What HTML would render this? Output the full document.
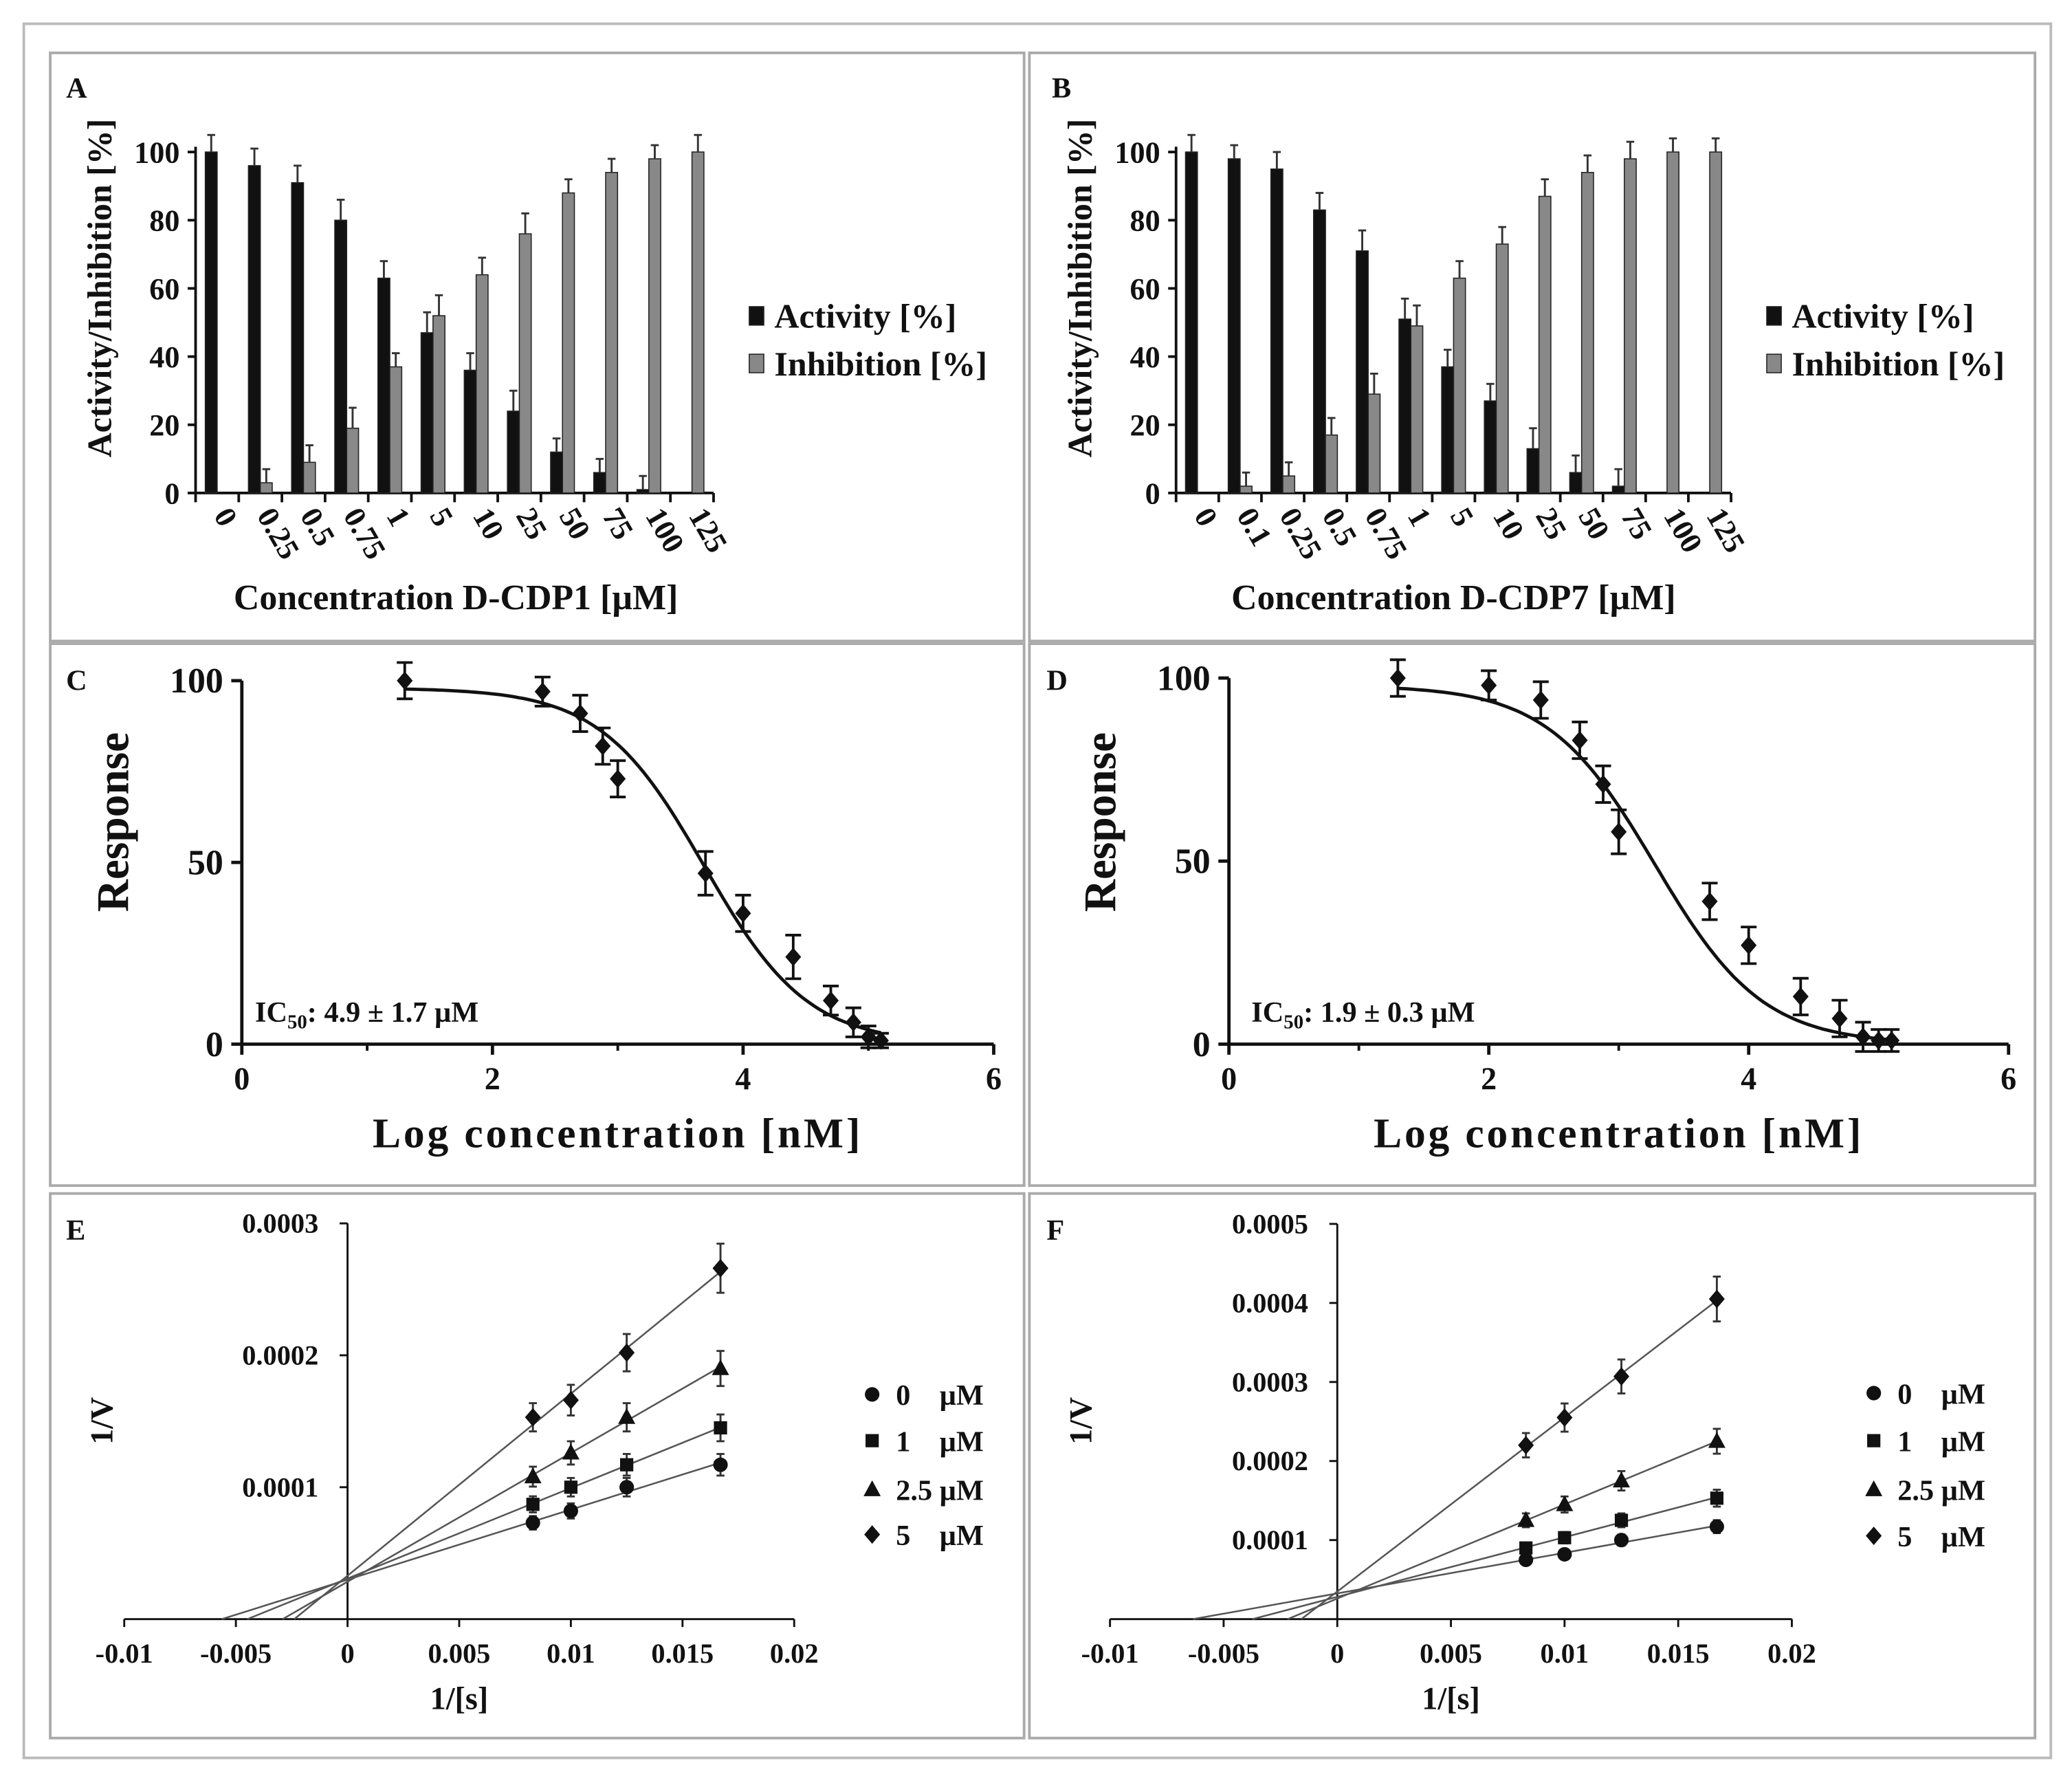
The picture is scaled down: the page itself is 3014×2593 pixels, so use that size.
<!DOCTYPE html>
<html><head><meta charset="utf-8">
<style>
html,body{margin:0;padding:0;background:#fff;}
svg{display:block;}
text{font-family:"Liberation Serif",serif;font-weight:bold;fill:#111;white-space:pre;}
</style></head>
<body>
<svg id="fig" width="3014" height="2593" viewBox="0 0 1568 1349" xmlns="http://www.w3.org/2000/svg">
<rect x="0" y="0" width="1568" height="1349" fill="#fff"/>
<rect x="18" y="18" width="1534" height="1312" fill="none" stroke="#bbb" stroke-width="2"/>
<rect x="38" y="40" width="737" height="445" fill="none" stroke="#aaa" stroke-width="2"/>
<rect x="779" y="40" width="761" height="445" fill="none" stroke="#aaa" stroke-width="2"/>
<rect x="38" y="487" width="737" height="410" fill="none" stroke="#aaa" stroke-width="2"/>
<rect x="779" y="487" width="761" height="410" fill="none" stroke="#aaa" stroke-width="2"/>
<rect x="38" y="903" width="737" height="412" fill="none" stroke="#aaa" stroke-width="2"/>
<rect x="779" y="903" width="761" height="412" fill="none" stroke="#aaa" stroke-width="2"/>
<g id="root"></g>
</svg>
<script>
// ---- Panel A data ----
const catsA = ["0","0.25","0.5","0.75","1","5","10","25","50","75","100","125"];
const actA = [100,96,91,80,63,47,36,24,12,6,1,0];
const actErrA = [5,5,5,6,5,6,5,6,4,4,4,0];
const inhA = [0,3,9,19,37,52,64,76,88,94,98,100];
const inhErrA = [0,4,5,6,4,6,5,6,4,4,4,5];
// ---- Panel B data ----
const catsB = ["0","0.1","0.25","0.5","0.75","1","5","10","25","50","75","100","125"];
const actB = [100,98,95,83,71,51,37,27,13,6,2,0,0];
const actErrB = [5,4,5,5,6,6,5,5,6,5,5,0,0];
const inhB = [0,2,5,17,29,49,63,73,87,94,98,100,100];
const inhErrB = [0,4,4,5,6,6,5,5,5,5,5,4,4];
const barTicks = [0,20,40,60,80,100];
// ---- Panel C data ----
const logC = [1.3,2.4,2.7,2.88,3,3.7,4,4.4,4.7,4.88,5,5.1];
const respC = [100,97,91,82,73,47,36,24,12,6,2,1];
const errC = [5,4,5,5,5,6,5,6,4,4,3,2];
const logIC50C = 3.69;
// ---- Panel D data ----
const logD = [1.3,2,2.4,2.7,2.88,3,3.7,4,4.4,4.7,4.88,5,5.1];
const respD = [100,98,94,83,71,58,39,27,13,7,2,1,1];
const errD = [5,4,5,5,5,6,5,5,5,5,4,3,3];
const logIC50D = 3.28;
const doseTicks = [0,2,4,6];
const respTicks = [0,50,100];
// ---- Panel E / F data (Lineweaver-Burk) ----
const invS = [0.0083,0.01,0.0125,0.0167];
const seriesNames = ["0    µM","1    µM","2.5 µM","5    µM"];
const E0 = [7.3e-5,8.2e-5,10e-5,11.7e-5];
const E1 = [8.7e-5,10e-5,11.7e-5,14.5e-5];
const E2 = [10.8e-5,12.6e-5,15.3e-5,19e-5];
const E3 = [15.3e-5,16.6e-5,20.2e-5,26.6e-5];
const F0 = [7.5e-5,8.2e-5,10e-5,11.7e-5];
const F1 = [9e-5,10.3e-5,12.5e-5,15.3e-5];
const F2 = [12.5e-5,14.5e-5,17.5e-5,22.5e-5];
const F3 = [22e-5,25.5e-5,30.7e-5,40.5e-5];
const lbXTicks = [-0.01,-0.005,0,0.005,0.01,0.015,0.02];
const eYTicks = [0.0001,0.0002,0.0003];
const fYTicks = [0.0001,0.0002,0.0003,0.0004,0.0005];

const NS="http://www.w3.org/2000/svg";
const root=document.getElementById('root');
function el(tag,attrs,parent,txt){const e=document.createElementNS(NS,tag);for(const k in attrs)e.setAttribute(k,attrs[k]);if(txt!==undefined)e.textContent=txt;(parent||root).appendChild(e);return e;}
function line(x1,y1,x2,y2,p,w,c){return el('line',{x1,y1,x2,y2,stroke:c||'#111','stroke-width':w||1.5},p);}

function barPanel(cfg){
  const g=el('g',{});
  
  
  const y=v=>cfg.y0-(v/100)*(cfg.y0-cfg.y100);
  const n=cfg.cats.length;
  const step=(cfg.xEnd-cfg.x0)/n;
  const bw=9;
  line(cfg.x0,cfg.y0,cfg.xEnd,cfg.y0,g,2);
  line(cfg.x0,cfg.y0,cfg.x0,y(100)-4,g,2);
  barTicks.forEach(t=>{
    line(cfg.x0-6,y(t),cfg.x0,y(t),g,2);
    const tl=el('text',{x:cfg.x0-12,y:y(t)+8,'text-anchor':'end','font-size':23},g,String(t));
    
    
  });
  for(let i=0;i<=n;i++) line(cfg.x0+i*step,cfg.y0,cfg.x0+i*step,cfg.y0+7,g,2);
  cfg.cats.forEach((c,i)=>{
    const cx=cfg.x0+i*step+step/2;
    [[cfg.act,cfg.actErr,'#111',cx-bw],[cfg.inh,cfg.inhErr,'#888',cx]].forEach(([vals,errs,col,bx],k)=>{
      const v=vals[i];
      if(v>0){
        const r=el('rect',{x:bx,y:y(v),width:bw,height:cfg.y0-y(v),fill:col,stroke:'#222','stroke-width':0.8},g);
        
        
      }
      if(errs[i]>0){
        const mx=bx+bw/2;
        line(mx,y(v),mx,y(v+errs[i]),g,1.5,'#333');
        line(mx-3,y(v+errs[i]),mx+3,y(v+errs[i]),g,1.5,'#333');
      }
    });
    const tl=el('text',{x:0,y:0,'font-size':23,transform:`translate(${cx-3},${cfg.y0+17}) rotate(60)`},g,c);
    
    
  });
  const yt=el('text',{x:0,y:0,'font-size':26,'text-anchor':'middle',transform:`translate(${cfg.x0-64},218) rotate(-90)`},g,'Activity/Inhibition [%]');
  
  
  const xt=el('text',{x:cfg.xTitleX,y:461,'font-size':27,'text-anchor':'middle'},g,cfg.xTitle);
  
  
  const lbl=el('text',{x:cfg.labelX,y:74,'font-size':22},g,cfg.label);
  
  
  [['Activity [%]','#111',244],['Inhibition [%]','#888',280]].forEach(([t,c,yy])=>{
    const lg=el('g',{},g);
    
    
    el('rect',{x:cfg.legX,y:yy-12,width:11,height:14,fill:c,stroke:'#222','stroke-width':0.8},lg);
    el('text',{x:cfg.legX+19,y:yy+4,'font-size':26},lg,t);
  });
}
barPanel({name:'panel-a-bar-chart',label:'A',labelX:50,cats:catsA,act:actA,actErr:actErrA,inh:inhA,inhErr:inhErrA,x0:148,xEnd:540,y0:373,y100:115,xTitle:'Concentration D-CDP1 [µM]',xTitleX:345,legX:567});
barPanel({name:'panel-b-bar-chart',label:'B',labelX:796,cats:catsB,act:actB,actErr:actErrB,inh:inhB,inhErr:inhErrB,x0:890,xEnd:1310,y0:373,y100:115,xTitle:'Concentration D-CDP7 [µM]',xTitleX:1100,legX:1337});

function dosePanel(cfg){
  const g=el('g',{});
  
  
  const x=v=>cfg.x0+v*(cfg.x6-cfg.x0)/6;
  const y=v=>cfg.y0-v*(cfg.y0-cfg.y100)/100;
  line(x(0),cfg.y0,x(6),cfg.y0,g,2.5);
  line(x(0),cfg.y0,x(0),y(100),g,2.5);
  doseTicks.forEach(t=>{line(x(t),cfg.y0,x(t),cfg.y0+8,g,2.5);
    const tl=el('text',{x:x(t),y:cfg.y0+34,'text-anchor':'middle','font-size':24},g,String(t));
    });
  for(let t=1;t<6;t+=2) line(x(t),cfg.y0,x(t),cfg.y0+5,g,2);
  respTicks.forEach(t=>{line(x(0)-8,y(t),x(0),y(t),g,2.5);
    const tl=el('text',{x:x(0)-14,y:y(t)+9,'text-anchor':'end','font-size':27},g,String(t));
    });
  let d='';
  for(let i=0;i<=100;i++){const lx=cfg.xs[0]+(cfg.xs[cfg.xs.length-1]-cfg.xs[0])*i/100;
    const ry=98/(1+Math.pow(10,(lx-cfg.ic)*1.05));d+=(i?'L':'M')+x(lx).toFixed(1)+','+y(ry).toFixed(1);}
  const c=el('path',{d,fill:'none',stroke:'#111','stroke-width':2.5},g);
  
  cfg.xs.forEach((xv,i)=>{
    const px=x(xv),py=y(cfg.ys[i]),e=cfg.errs[i]*(cfg.y0-cfg.y100)/100;
    line(px,py-e,px,py+e,g,2);line(px-6,py-e,px+6,py-e,g,2);line(px-6,py+e,px+6,py+e,g,2);
    const p=el('path',{d:`M${px},${py-7}L${px+6},${py}L${px},${py+7}L${px-6},${py}Z`,fill:'#111'},g);
    
  });
  const yt=el('text',{x:0,y:0,'font-size':34,'text-anchor':'middle',transform:`translate(${x(0)-86},622) rotate(-90)`},g,'Response');
  
  const xt=el('text',{x:x(3),y:868,'font-size':32,'text-anchor':'middle','letter-spacing':'2'},g,'Log concentration [nM]');
  
  const ic=el('text',{x:cfg.icX,y:773,'font-size':22},g);
  
  el('tspan',{},ic,'IC');el('tspan',{'font-size':15,dy:5},ic,'50');el('tspan',{dy:-5},ic,cfg.icText);
  const lbl=el('text',{x:cfg.labelX,y:522,'font-size':22},g,cfg.label);
  
}
dosePanel({name:'panel-c-dose-response',label:'C',labelX:50,xs:logC,ys:respC,errs:errC,ic:logIC50C,x0:183,x6:752,y0:790,y100:515,icX:193,icText:': 4.9 ± 1.7 µM'});
dosePanel({name:'panel-d-dose-response',label:'D',labelX:792,xs:logD,ys:respD,errs:errD,ic:logIC50D,x0:930,x6:1520,y0:790,y100:513,icX:947,icText:': 1.9 ± 0.3 µM'});

function lbPanel(cfg){
  const g=el('g',{});
  
  
  const x=v=>cfg.xz+v*cfg.kx;
  const y=v=>cfg.y0-v*cfg.ky;
  line(x(-0.01),cfg.y0,x(0.02),cfg.y0,g,1.5);
  line(x(0),cfg.y0,x(0),y(cfg.yt[cfg.yt.length-1]),g,1.5);
  lbXTicks.forEach(t=>{line(x(t),cfg.y0,x(t),cfg.y0+6,g,1.5);
    const tl=el('text',{x:x(t),y:cfg.y0+33,'text-anchor':'middle','font-size':21},g,String(t));
    });
  cfg.yt.forEach(t=>{line(x(0)-6,y(t),x(0),y(t),g,1.5);
    const tl=el('text',{x:x(0)-22,y:y(t)+7,'text-anchor':'end','font-size':21},g,t.toFixed(4));
    });
  const markers=[
    (px,py)=>`<circle cx="${px}" cy="${py}" r="5.5"/>`,
    (px,py)=>`<rect x="${px-5}" y="${py-5}" width="10" height="10"/>`,
    (px,py)=>`<path d="M${px},${py-7}L${px+6.5},${py+5}L${px-6.5},${py+5}Z"/>`,
    (px,py)=>`<path d="M${px},${py-7}L${px+6},${py}L${px},${py+7}L${px-6},${py}Z"/>`];
  cfg.series.forEach((ys,si)=>{
    const n=ys.length,mx=invS.reduce((a,b)=>a+b)/n,my=ys.reduce((a,b)=>a+b)/n;
    let sxy=0,sxx=0;invS.forEach((xv,i)=>{sxy+=(xv-mx)*(ys[i]-my);sxx+=(xv-mx)*(xv-mx);});
    const m=sxy/sxx,b=my-m*mx,xi=-b/m;
    const l=line(x(xi),y(0),x(invS[n-1]),y(m*invS[n-1]+b),g,1.3,'#555');
    
    ys.forEach((v,i)=>{
      const px=x(invS[i]),py=y(v),e=(v*0.07)*cfg.ky;
      line(px,py-e,px,py+e,g,1.5,'#333');line(px-3,py-e,px+3,py-e,g,1.5,'#333');line(px-3,py+e,px+3,py+e,g,1.5,'#333');
      const mk=el('g',{fill:'#111'},g);mk.innerHTML=markers[si](px,py);
      
    });
    const lg=el('g',{fill:'#111'},g);
    
    const ly=cfg.legY[si];
    lg.innerHTML=markers[si](cfg.legX,ly);
    el('text',{x:cfg.legX+18,y:ly+8,'font-size':22},lg,seriesNames[si]);
  });
  const yt=el('text',{x:0,y:0,'font-size':24,'text-anchor':'middle',transform:`translate(${cfg.yLabX},1075) rotate(-90)`},g,'1/V');
  
  const xt=el('text',{x:x(0.005),y:1293,'font-size':24,'text-anchor':'middle'},g,'1/[s]');
  
  const lbl=el('text',{x:cfg.labelX,y:938,'font-size':22},g,cfg.label);
  
}
lbPanel({name:'panel-e-lineweaver-burk',label:'E',labelX:50,series:[E0,E1,E2,E3],xz:263,kx:16900,y0:1225,ky:998000,yt:eYTicks,legX:660,legY:[1055,1090,1127,1161],yLabX:85});
lbPanel({name:'panel-f-lineweaver-burk',label:'F',labelX:792,series:[F0,F1,F2,F3],xz:1012,kx:17200,y0:1225,ky:598000,yt:fYTicks,legX:1418,legY:[1054,1090,1127,1162],yLabX:826});
</script>
</body></html>
